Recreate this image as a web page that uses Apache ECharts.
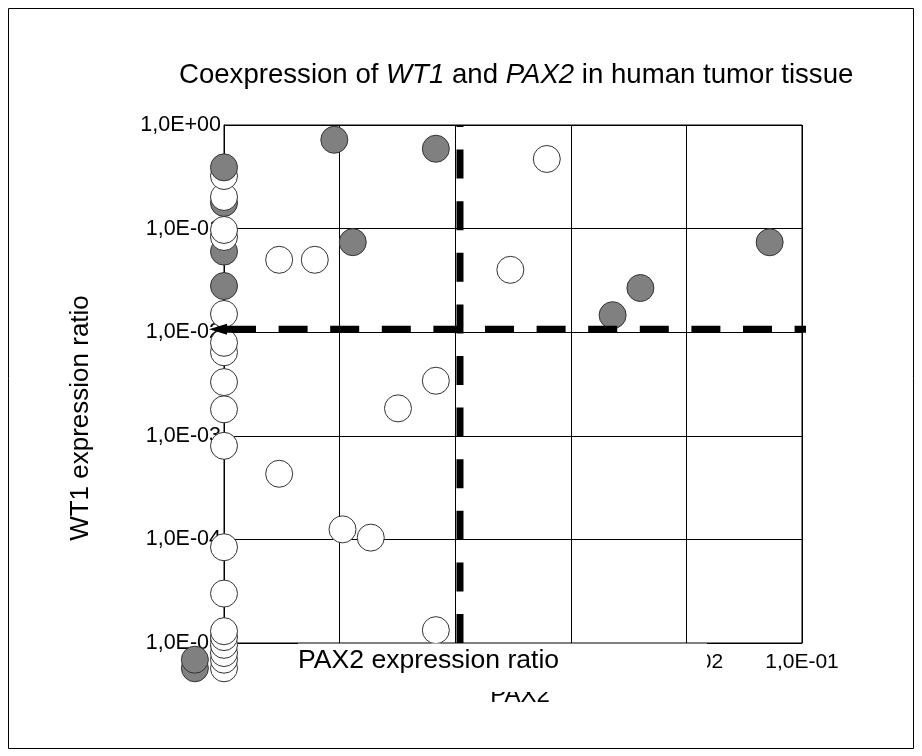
<!DOCTYPE html>
<html><head><meta charset="utf-8">
<script src="https://cdn.jsdelivr.net/npm/echarts@6/dist/echarts.min.js"></script>
<style>html,body{margin:0;padding:0;background:#fff}#c{width:922px;height:756px}</style>
</head><body><div id="c"></div>
<script>
// Tick labels (decades)
const xTickLabels = ['1,0E-06','1,0E-05','1,0E-04','1,0E-03','1,0E-02','1,0E-01'];
const yTickLabels = ['1,0E-05','1,0E-04','1,0E-03','1,0E-02','1,0E-01','1,0E+00'];

// Filled (grey) samples
const filledPax2 = [1e-6, 1e-6, 1e-6, 1e-6, 5.6e-7, 5.6e-7, 9.0e-6, 6.8e-5, 1.3e-5, 2.3e-3, 4.0e-3, 0.0525];
const filledWt1  = [0.39, 0.177, 0.060, 0.0279, 6.9e-6, 5.7e-6, 0.72, 0.59, 0.074, 0.0146, 0.0267, 0.0738];

// Open (white) samples
const openPax2 = [1e-6, 1e-6, 1e-6, 1e-6, 1e-6, 1e-6, 1e-6, 1e-6, 1e-6, 1e-6, 1e-6, 1e-6,
                  1e-6, 1e-6, 1e-6, 1e-6, 1e-6, 1e-6,
                  3.0e-6, 6.1e-6, 6.2e-4, 3.0e-4, 6.8e-5, 3.2e-5, 3.0e-6, 1.06e-5, 1.86e-5, 6.8e-5];
const openWt1  = [0.322, 0.202, 0.097, 0.083, 0.015, 7.9e-3, 6.4e-3, 3.3e-3, 1.8e-3, 8.0e-4, 8.4e-5, 3.0e-5,
                  1.3e-5, 1.14e-5, 9.6e-6, 8.0e-6, 6.9e-6, 5.7e-6,
                  0.050, 0.050, 0.47, 0.040, 3.4e-3, 1.84e-3, 4.3e-4, 1.25e-4, 1.04e-4, 1.33e-5];

// Cut-off lines
const pax2Cutoff = 1.1e-4;
const wt1Cutoff = 0.0107;
const hLineX = [1e-6, 0.12];
const vLineY = [1e-5, 1];

const FONT = 'Liberation Sans, Arial, sans-serif';

// Build one combined scatter list so that higher points are drawn on top
const pts = [];
filledPax2.forEach((x, i) => pts.push({ value: [x, filledWt1[i]], itemStyle: { color: '#808080' } }));
openPax2.forEach((x, i) => pts.push({ value: [x, openWt1[i]], itemStyle: { color: '#ffffff' } }));
pts.sort((a, b) => a.value[1] - b.value[1]);

function decadeLabel(arr, minExp) {
  return function (v) {
    const e = Math.round(Math.log10(v));
    return arr[e - minExp] || '';
  };
}

const chart = echarts.init(document.getElementById('c'), null, { renderer: 'canvas' });
chart.setOption({
  animation: false,
  backgroundColor: '#fff',
  title: {
    text: '{n|Coexpression of }{i|WT1}{n| and }{i|PAX2}{n| in human tumor tissue}',
    left: 174, top: 54,
    textStyle: {
      fontWeight: 'normal',
      rich: {
        n: { fontSize: 27.6, fontFamily: FONT, fontWeight: 'normal', color: '#000', lineHeight: 32 },
        i: { fontSize: 27.6, fontFamily: FONT, fontWeight: 'normal', color: '#000', fontStyle: 'italic', lineHeight: 32 }
      }
    }
  },
  grid: { left: 224, right: 120, top: 125, bottom: 113, show: true, borderColor: '#000', borderWidth: 1, backgroundColor: 'transparent' },
  xAxis: {
    type: 'log', logBase: 10, min: 1e-6, max: 1e-1,
    axisLine: { show: true, lineStyle: { color: '#000', width: 1 } },
    axisTick: { show: false },
    splitLine: { show: true, lineStyle: { color: '#000', width: 1 } },
    minorTick: { show: false },
    axisLabel: { showMinLabel: false, margin: 9, color: '#000', fontSize: 21, fontFamily: FONT, formatter: decadeLabel(xTickLabels, -6) }
  },
  yAxis: {
    type: 'log', logBase: 10, min: 1e-5, max: 1,
    axisLine: { show: true, lineStyle: { color: '#000', width: 1 } },
    axisTick: { show: false },
    splitLine: { show: true, lineStyle: { color: '#000', width: 1 } },
    axisLabel: { margin: 3, color: '#000', fontSize: 21.5, fontFamily: FONT, padding: [4, 0, 0, 0], formatter: decadeLabel(yTickLabels, -5) }
  },
  series: [
    {
      type: 'scatter', z: 2, clip: false, silent: true,
      symbol: 'circle', symbolSize: 27,
      itemStyle: { borderColor: '#333', borderWidth: 1, opacity: 1 },
      data: pts
    },
    {
      type: 'line', z: 3, clip: false, silent: true, symbol: 'none', showSymbol: true,
      itemStyle: { color: '#000' },
      lineStyle: { color: '#000', width: 7, type: [29, 22.6], dashOffset: 48.6 },
      data: [
        { value: [hLineX[0], wt1Cutoff], symbol: 'triangle', symbolSize: [11, 18], symbolRotate: 90, symbolOffset: [-6, 0] },
        [hLineX[1], wt1Cutoff]
      ]
    },
    {
      type: 'line', z: 3, clip: false, silent: true, symbol: 'none',
      lineStyle: { color: '#000', width: 7, type: [29, 22.6] },
      data: [[pax2Cutoff, vLineY[0]], [pax2Cutoff, vLineY[1]]]
    }
  ],
  graphic: [
    { type: 'rect', z: 100, shape: { x: 8.5, y: 8.5, width: 905, height: 740 }, style: { fill: null, stroke: '#000', lineWidth: 1 } },
    { type: 'text', z: 90, x: 520, y: 683, style: { text: 'PAX2', font: '24px ' + FONT, fill: '#000', textAlign: 'center', textVerticalAlign: 'top' } },
    { type: 'rect', z: 95, shape: { x: 298, y: 643.5, width: 409, height: 48.5 }, style: { fill: '#fff', stroke: null } },
    { type: 'text', z: 96, x: 298, y: 661, style: { text: 'PAX2 expression ratio', font: '26.6px ' + FONT, fill: '#000', textAlign: 'left', textVerticalAlign: 'middle' } },
    { type: 'text', z: 96, x: 81, y: 418, rotation: Math.PI / 2, style: { text: 'WT1 expression ratio', font: '26px ' + FONT, fill: '#000', textAlign: 'center', textVerticalAlign: 'middle' } }
  ]
});
</script></body></html>
